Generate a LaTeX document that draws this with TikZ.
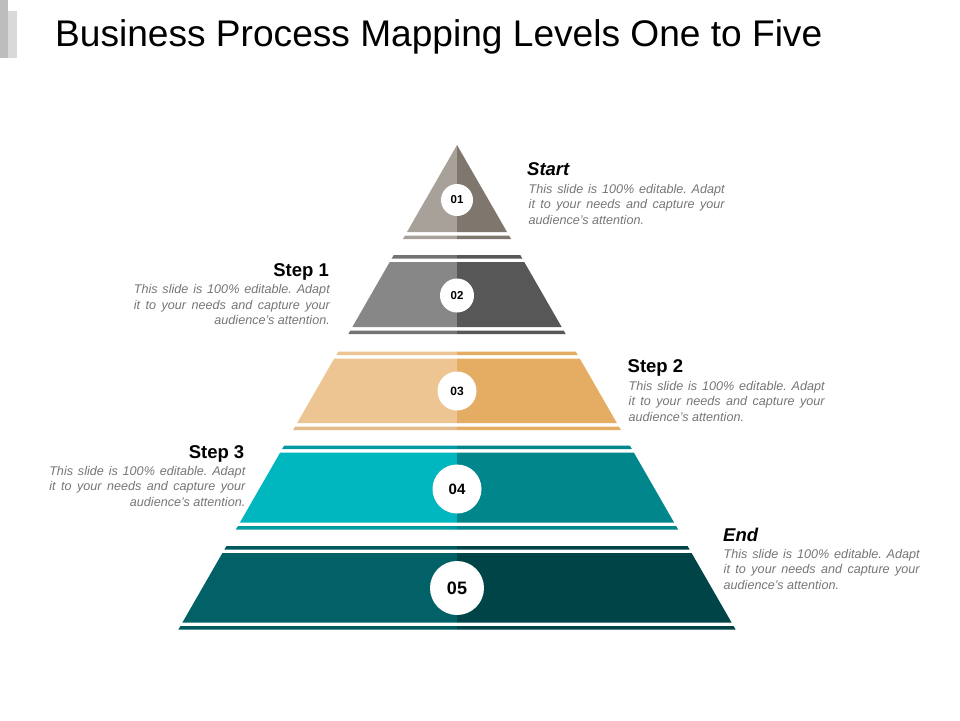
\documentclass[tikz,border=0pt]{standalone}
\usepackage{fontspec}
\setmainfont{Liberation Sans}
\frenchspacing
\definecolor{Aa}{HTML}{A8A199}
\definecolor{Ab}{HTML}{7F776D}
\definecolor{Ba}{HTML}{878787}
\definecolor{Bb}{HTML}{575757}
\definecolor{Ca}{HTML}{EDC592}
\definecolor{Cb}{HTML}{E5AD64}
\definecolor{Da}{HTML}{00B6BF}
\definecolor{Db}{HTML}{00868B}
\definecolor{Ea}{HTML}{016166}
\definecolor{Eb}{HTML}{004447}
\definecolor{barA}{HTML}{BDBDBD}
\definecolor{barB}{HTML}{D9D9D9}
\definecolor{desccol}{HTML}{767676}
\newcommand\pyrcx{457}
\newcommand\pyray{145}
\newcommand\pyrslope{0.575}
\newcommand\pyrseg[4]{%
  \pgfmathsetmacro\pyrha{\pyrslope*(#1-\pyray)}%
  \pgfmathsetmacro\pyrhb{\pyrslope*(#2-\pyray)}%
  \fill[#3] (\pyrcx-\pyrha,#1) -- (\pyrcx,#1) -- (\pyrcx,#2) -- (\pyrcx-\pyrhb,#2) -- cycle;
  \fill[#4] (\pyrcx,#1) -- (\pyrcx+\pyrha,#1) -- (\pyrcx+\pyrhb,#2) -- (\pyrcx,#2) -- cycle;}
\newcommand\descRight{\parbox[t]{196pt}{\makebox[196pt][s]{This slide is 100\% editable. Adapt}\\\makebox[196pt][s]{it to your needs and capture your}\\audience's attention.}}
\newcommand\descLeft{\parbox[t]{196pt}{\makebox[196pt][s]{This slide is 100\% editable. Adapt}\\\makebox[196pt][s]{it to your needs and capture your}\\\hspace*{\fill}audience's attention.}}
\begin{document}
\begin{tikzpicture}[x=1pt,y=-1pt,
  numc/.style={circle,fill=white,inner sep=0pt,text=black},
  headtxt/.style={inner sep=0pt,text=black,font=\bfseries\fontsize{18.5}{20}\selectfont},
  desctxt/.style={inner sep=0pt,text=desccol,font=\itshape\fontsize{12.6}{15.5}\selectfont}]
\useasboundingbox (0,0) rectangle (960,720);
\fill[white] (0,0) rectangle (960,720);
% corner bars
\fill[barA] (0,0) rectangle (8.3,58);
\fill[barB] (8.3,10.7) rectangle (17.3,58);
% title
\node[anchor=base west,inner sep=0pt,font=\fontsize{37.1}{40}\selectfont] (title) at (55,46.7) {Business Process Mapping Levels One to Five};
% pyramid layers
\pyrseg{145}{232}{Aa}{Ab}
\pyrseg{235.5}{239}{Aa}{Ab}
\pyrseg{255}{258.5}{Ba!85!black}{Bb}
\pyrseg{262}{327}{Ba}{Bb}
\pyrseg{330.5}{334}{Ba!85!black}{Bb}
\pyrseg{351.5}{355}{Ca}{Cb}
\pyrseg{358.5}{423}{Ca}{Cb}
\pyrseg{426.5}{430}{Ca!95!black}{Cb}
\pyrseg{445.5}{449}{Da!85!black}{Db}
\pyrseg{452.5}{522.5}{Da}{Db}
\pyrseg{526}{529.5}{Da!85!black}{Db}
\pyrseg{546}{549.5}{Ea!92!black}{Eb}
\pyrseg{553}{622.5}{Ea}{Eb}
\pyrseg{626}{629.5}{Ea!92!black}{Eb}
% number circles
\node[numc,minimum size=32pt,font=\bfseries\fontsize{11.5}{12}\selectfont] (n1) at (\pyrcx,200) {01};
\node[numc,minimum size=34pt,font=\bfseries\fontsize{11.5}{12}\selectfont] (n2) at (\pyrcx,295.5) {02};
\node[numc,minimum size=39pt,font=\bfseries\fontsize{12}{13}\selectfont] (n3) at (\pyrcx,391) {03};
\node[numc,minimum size=49pt,font=\bfseries\fontsize{15}{16}\selectfont] (n4) at (\pyrcx,489) {04};
\node[numc,minimum size=54pt,font=\bfseries\fontsize{18}{19}\selectfont] (n5) at (\pyrcx,588) {05};
% labels
\node[headtxt,anchor=base west] (h1) at (527,175) {\itshape Start};
\node[desctxt,anchor=base west] (d1) at (528.5,193) {\descRight};
\node[headtxt,anchor=base east] (h2) at (329,276) {Step 1};
\node[desctxt,anchor=base east] (d2) at (330,293.5) {\descLeft};
\node[headtxt,anchor=base west] (h3) at (627.5,372.5) {Step 2};
\node[desctxt,anchor=base west] (d3) at (628.5,390) {\descRight};
\node[headtxt,anchor=base east] (h4) at (244.5,458) {Step 3};
\node[desctxt,anchor=base east] (d4) at (245.5,475) {\descLeft};
\node[headtxt,anchor=base west] (h5) at (723,541) {\itshape End};
\node[desctxt,anchor=base west] (d5) at (723.5,558) {\descRight};
\end{tikzpicture}
\end{document}
